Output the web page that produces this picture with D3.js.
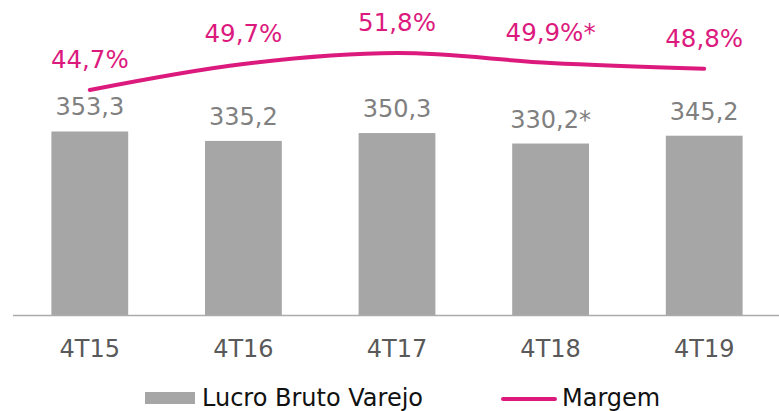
<!DOCTYPE html>
<html>
<head>
<meta charset="utf-8">
<script src="https://cdn.jsdelivr.net/npm/d3@7"></script>
<style>
  body { margin: 0; background: #fff; }
  svg { display: block; font-family: "DejaVu Sans", Verdana, sans-serif; }
</style>
</head>
<body>
<svg id="chart" width="779" height="411"></svg>
<script>
const categories = ['4T15', '4T16', '4T17', '4T18', '4T19'];
const lucroValues = [353.3, 335.2, 350.3, 330.2, 345.2];
const lucroLabels = ['353,3', '335,2', '350,3', '330,2*', '345,2'];
const margemValues = [44.7, 49.7, 51.8, 49.9, 48.8];
const margemLabels = ['44,7%', '49,7%', '51,8%', '49,9%*', '48,8%'];

const svg = d3.select('#chart');
const barColor = '#A6A6A6';
const lineColor = '#DC1A7E';
const baseY = 315.5;

const xScale = d3.scaleBand()
  .domain(categories)
  .range([13, 781])
  .paddingInner(0.5)
  .paddingOuter(0.25);

const yScale = d3.scaleLinear().domain([0, 600]).range([baseY, 3]);
const y2Scale = d3.scaleLinear().domain([0, 60]).range([322.4, 10.4]);

let cx = (i) => xScale(categories[i]) + xScale.bandwidth() / 2;

// bars
svg.selectAll('rect.bar').data(lucroValues)
  .enter().append('rect')
  .attr('class', 'bar')
  .attr('x', (d, i) => xScale(categories[i]))
  .attr('y', d => yScale(d))
  .attr('width', xScale.bandwidth())
  .attr('height', d => baseY - yScale(d))
  .attr('fill', barColor);

// bar labels
svg.selectAll('text.barlabel').data(lucroValues)
  .enter().append('text')
  .attr('class', 'barlabel')
  .attr('x', (d, i) => cx(i))
  .attr('y', d => yScale(d) - 16)
  .attr('text-anchor', 'middle')
  .attr('font-size', 24)
  .attr('fill', '#808080')
  .text((d, i) => lucroLabels[i]);

// x axis
const xAxis = d3.axisBottom(xScale).tickSize(0).tickPadding(24);
const gx = svg.append('g')
  .attr('transform', 'translate(0,' + baseY + ')')
  .call(xAxis);
gx.select('.domain').remove();
gx.selectAll('text')
  .attr('font-size', 24)
  .attr('font-family', '"DejaVu Sans", Verdana, sans-serif')
  .attr('fill', '#595959');
svg.append('line')
  .attr('x1', 13).attr('x2', 779)
  .attr('y1', baseY).attr('y2', baseY)
  .attr('stroke', '#ABABAB')
  .attr('stroke-width', 1.5);

// margem line
const line = d3.line()
  .x((d, i) => cx(i))
  .y(d => y2Scale(d))
  .curve(d3.curveCatmullRom.alpha(0.5));

svg.append('path')
  .datum(margemValues)
  .attr('d', line)
  .attr('fill', 'none')
  .attr('stroke', lineColor)
  .attr('stroke-width', 4)
  .attr('stroke-linecap', 'round');

svg.selectAll('text.linelabel').data(margemValues)
  .enter().append('text')
  .attr('class', 'linelabel')
  .attr('x', (d, i) => cx(i))
  .attr('y', d => y2Scale(d) - 22)
  .attr('text-anchor', 'middle')
  .attr('font-size', 24.5)
  .attr('fill', lineColor)
  .text((d, i) => margemLabels[i]);

// legend
const legend = svg.append('g');
legend.append('rect')
  .attr('x', 145).attr('y', 392)
  .attr('width', 50).attr('height', 12)
  .attr('fill', barColor);
legend.append('text')
  .attr('x', 202).attr('y', 406)
  .attr('font-size', 24)
  .attr('fill', '#111')
  .text('Lucro Bruto Varejo');
legend.append('line')
  .attr('x1', 503).attr('x2', 555)
  .attr('y1', 399).attr('y2', 399)
  .attr('stroke', lineColor)
  .attr('stroke-width', 4)
  .attr('stroke-linecap', 'round');
legend.append('text')
  .attr('x', 562).attr('y', 406)
  .attr('font-size', 24)
  .attr('fill', '#111')
  .text('Margem');
</script>
</body>
</html>
